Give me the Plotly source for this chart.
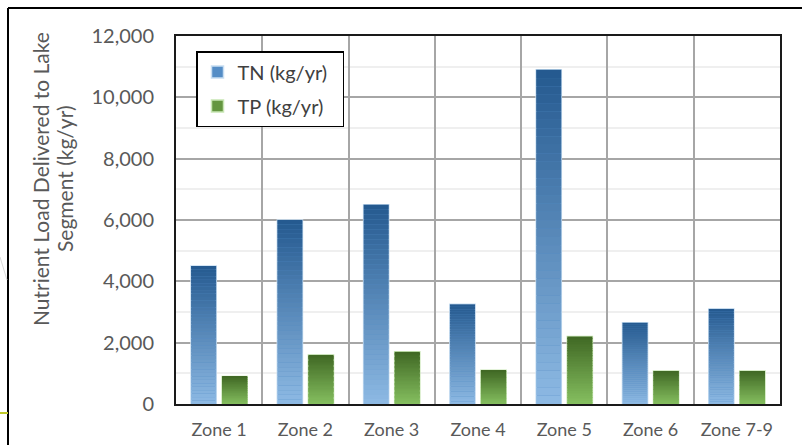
import plotly.graph_objects as go

# Nutrient loads delivered to each lake segment
zones = ["Zone 1", "Zone 2", "Zone 3", "Zone 4", "Zone 5", "Zone 6", "Zone 7-9"]
tn_load = [4500, 6000, 6500, 3250, 10900, 2650, 3100]
tp_load = [900, 1600, 1700, 1100, 2200, 1075, 1075]
y_ticks = [0, 2000, 4000, 6000, 8000, 10000, 12000]

W, H = 802, 445
L, R, T, B = 176, 22, 36, 41
PW, PH = W - L - R, H - T - B


def px_x(px):
    return (px - L) / PW


def px_y(py):
    return (H - B - py) / PH


def mix(c1, c2, t):
    return "rgb({},{},{})".format(*[round(a + (b - a) * t) for a, b in zip(c1, c2)])


series = [
    dict(name="TN (kg/yr)", vals=tn_load, group="tn",
         light=(142, 186, 228), dark=(36, 89, 143), mid="rgb(84,141,198)",
         edge="rgb(200,222,242)"),
    dict(name="TP (kg/yr)", vals=tp_load, group="tp",
         light=(134, 192, 96), dark=(64, 104, 36), mid="rgb(100,150,64)",
         edge="rgb(200,230,180)"),
]

N_BANDS = 40
fig = go.Figure()
for s in series:
    # full bar (outline + legend swatch)
    fig.add_trace(go.Bar(
        x=zones, y=s["vals"], name=s["name"] + "\u00a0\u00a0", offsetgroup=s["group"],
        legendgroup=s["group"],
        marker=dict(color=s["mid"], line=dict(color=s["edge"], width=1.5)),
    ))
    # vertical gradient: light at the base, dark at the top of each bar
    for k in range(N_BANDS):
        t = (k + 0.5) / N_BANDS
        fig.add_trace(go.Bar(
            x=zones,
            y=[v / N_BANDS for v in s["vals"]],
            base=[v * k / N_BANDS for v in s["vals"]],
            offsetgroup=s["group"], legendgroup=s["group"], showlegend=False,
            marker=dict(color=mix(s["light"], s["dark"], t), line=dict(width=0)),
            hoverinfo="skip",
        ))

font_family = "Lato, 'Liberation Sans', sans-serif"
grey = "#595959"

fig.update_layout(
    width=W, height=H,
    margin=dict(l=L, r=R, t=T, b=B, pad=0, autoexpand=False),
    paper_bgcolor="white", plot_bgcolor="white",
    barmode="group", bargap=0.28, bargroupgap=0.19,
    font=dict(family=font_family, color=grey, size=20),
    legend=dict(
        x=px_x(196), y=px_y(51), xanchor="left", yanchor="top",
        bgcolor="white", bordercolor="black", borderwidth=1.5,
        font=dict(size=20, color="#404040"),
        traceorder="grouped", tracegroupgap=5,
    ),
    showlegend=True,
)

fig.update_xaxes(
    type="category", tickson="boundaries", ticks="", ticklen=0,
    tickangle=0, automargin=False, ticklabelstandoff=8,
    showgrid=True, gridcolor="#a6a6a6", gridwidth=1.5,
    showline=True, mirror=True, linecolor="#1a1a1a", linewidth=2,
    tickfont=dict(size=18, color=grey),
)
fig.update_yaxes(
    range=[0, 12000], tickvals=y_ticks, tickformat=",", automargin=False,
    showgrid=True, gridcolor="#a6a6a6", gridwidth=1.5,
    minor=dict(dtick=1000, showgrid=True, gridcolor="#efefef", gridwidth=1.5),
    showline=True, mirror=True, linecolor="#1a1a1a", linewidth=2,
    zeroline=False, ticks="outside", ticklen=0, ticklabelstandoff=16,
    tickfont=dict(size=20, color=grey),
)

# two-line y-axis title
title_lines = [("Nutrient Load Delivered to Lake", 40), ("Segment (kg/yr)", 64)]
for text, xc in title_lines:
    fig.add_annotation(
        text=text, xref="paper", yref="paper", x=px_x(xc), y=px_y(179),
        xanchor="center", yanchor="middle", textangle=-90, showarrow=False,
        font=dict(size=21, color=grey),
    )

# slide frame around the chart
frame = [
    dict(x0=8, y0=8, x1=W, y1=8, color="black", width=2),
    dict(x0=8, y0=8, x1=8, y1=H, color="black", width=2),
    dict(x0=0, y0=413, x1=8, y1=413, color="rgb(190,200,40)", width=2),
    dict(x0=0, y0=257, x1=7, y1=280, color="#d9d9d9", width=1),
]
for f in frame:
    fig.add_shape(
        type="line", xref="paper", yref="paper",
        x0=px_x(f["x0"]), y0=px_y(f["y0"]), x1=px_x(f["x1"]), y1=px_y(f["y1"]),
        line=dict(color=f["color"], width=f["width"]), layer="above",
    )

fig.write_html("out.html")
